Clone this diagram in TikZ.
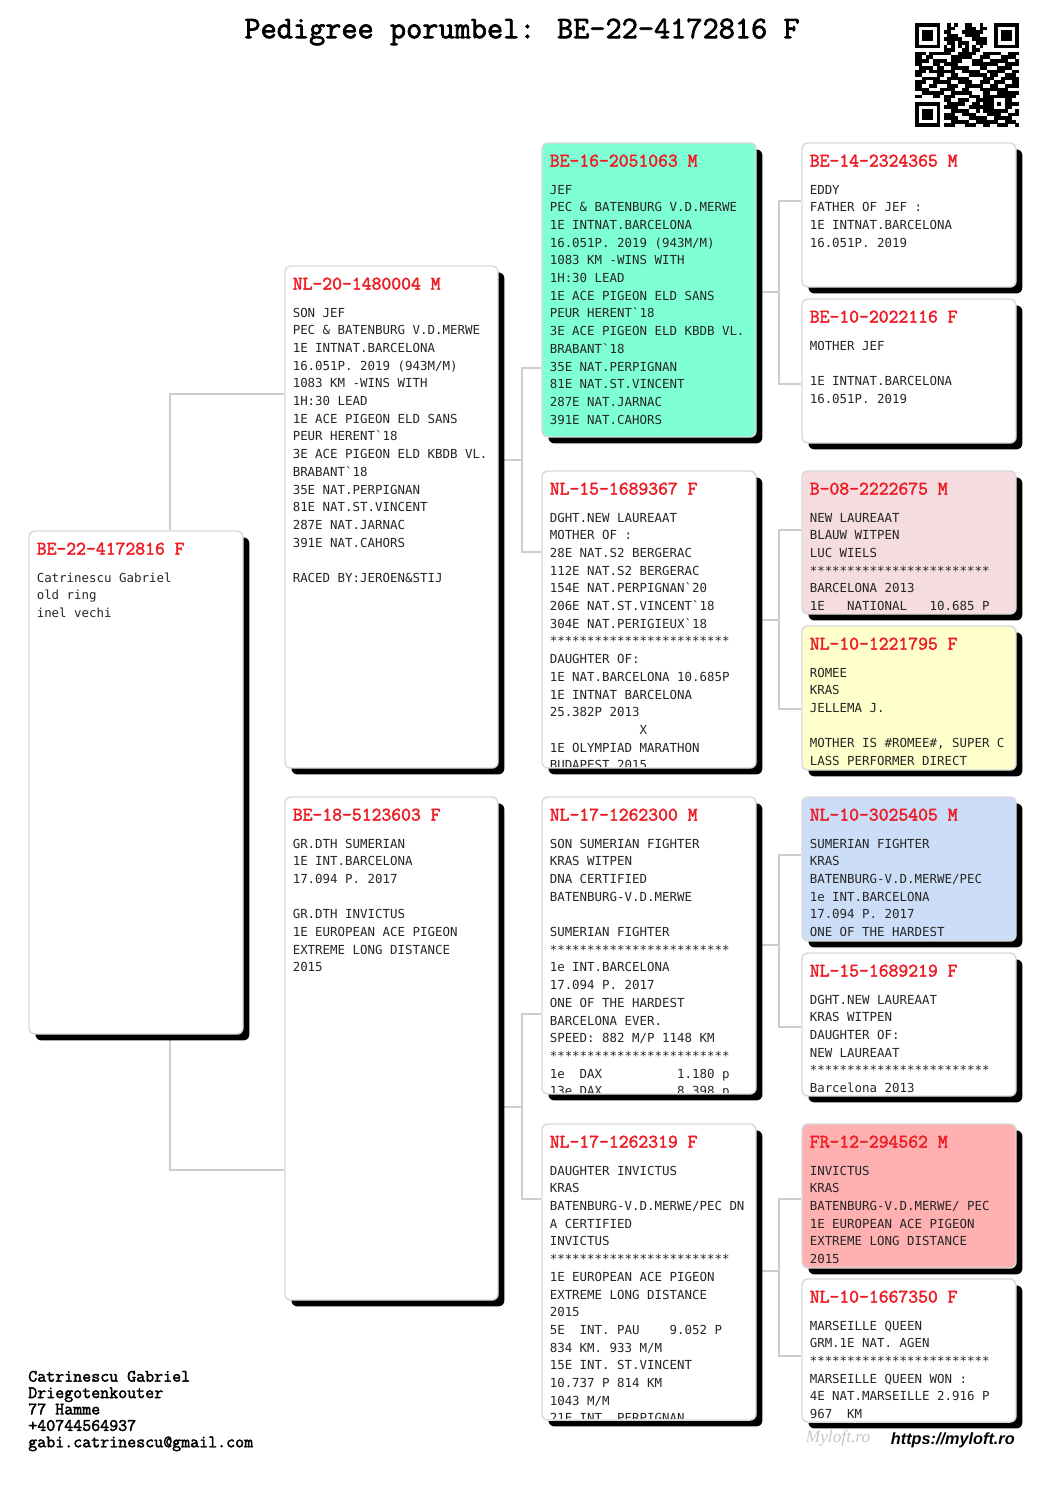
\documentclass[tikz,border=0pt]{standalone}
\usepackage{fontspec}
\usetikzlibrary{shadows,backgrounds}
\newfontfamily\bodymono{DejaVu Sans Mono}
\newfontfamily\headmono[FakeBold=2.2]{Latin Modern Mono}
\newfontfamily\urlsans{Liberation Sans}
\newfontfamily\logoserif{Liberation Serif}
\definecolor{edgegray}{HTML}{D9D9D9}
\definecolor{linkgray}{HTML}{CDCDCD}
\definecolor{headred}{HTML}{EE1C25}
\definecolor{inkdark}{HTML}{262626}
\definecolor{cteal}{HTML}{7FFFD4}
\definecolor{cpink}{HTML}{F4DCDF}
\definecolor{cyellow}{HTML}{FFFFCC}
\definecolor{cblue}{HTML}{CCDDF7}
\definecolor{cred}{HTML}{FFB0B0}
\tikzset{
  pedbox/.style={draw=edgegray,line width=1.1pt,rounded corners=4.5pt,inner sep=0pt,
    drop shadow={shadow xshift=4.8pt,shadow yshift=-4.8pt,fill=black,opacity=1}},
  headtext/.style={anchor=west,inner sep=0pt,text=headred,font=\headmono\fontsize{14.35pt}{16pt}\selectfont},
  bodytext/.style={anchor=north west,inner sep=0pt,align=left,text=inkdark,font=\bodymono\fontsize{9.33pt}{13.27pt}\selectfont},
  link/.style={draw=linkgray,line width=0.9pt},
  titletext/.style={inner sep=0pt,font=\headmono\fontsize{23.55pt}{26pt}\selectfont},
  foottext/.style={anchor=north west,inner sep=0pt,align=left,font=\headmono\fontsize{13.1pt}{12.3pt}\selectfont},
  urltext/.style={inner sep=0pt,font=\urlsans\bfseries\itshape\fontsize{12.2pt}{14pt}\selectfont},
  logotext/.style={inner sep=0pt,text=black!22,font=\logoserif\itshape\fontsize{13pt}{14pt}\selectfont}
}
% name, left, top, right, bottom, colour, header, body, clip y
\newcommand\pedigreebox[9]{%
  \node[pedbox,fill=#6,minimum width={(#4-#2)*0.75pt},minimum height={(#5-#3)*0.75pt}] (#1) at ({(#2+#4)/2},{(#3+#5)/2}) {};
  \node[headtext] (#1h) at ({#2+7.5},{#3+17.7}) {#7};
  \begin{scope}
    \clip (#2,#3) rectangle (#4,#9);
    \node[bodytext] (#1b) at ({#2+7.5},{#3+40.2}) {\rule{0pt}{8pt}#8};
  \end{scope}}
% parent, stub y, mid x, child1, y1, child2, y2
\newcommand\pedigreelink[7]{%
  \draw[link] (#1.east |- 0,#2) -- (#3,#2);
  \draw[link] (#4.west |- 0,#5) -- (#3,#5) -- (#3,#7) -- (#6.west |- 0,#7);}
\newcount\qrcol
\newcount\qrrow
\def\qrscan#1{\ifx#1\relax\else
  \ifx#11\fill[black] ({915+3.586*\the\qrcol},{23+3.586*\the\qrrow}) rectangle ({915+3.586*(\the\qrcol+1)+0.1},{23+3.586*(\the\qrrow+1)+0.1});\fi
  \advance\qrcol by 1 \expandafter\qrscan\fi}
\def\qrline#1{\qrcol=0 \qrscan#1\relax\advance\qrrow by 1 }
\begin{document}
\begin{tikzpicture}[x=0.75pt,y=-0.75pt]
\useasboundingbox (0,0) rectangle (1044,1488);
\node[titletext] (title) at (522,32) {Pedigree porumbel: BE-22-4172816 F};
\qrrow=0
\qrline{11111110010100110010001111111}
\qrline{10000010011000111011001000001}
\qrline{10111010110001111110001011101}
\qrline{10111010011100111100001011101}
\qrline{10111010111110001111001011101}
\qrline{10000010011011100111001000001}
\qrline{11111110101010101010001111111}
\qrline{00000000111001101100000000000}
\qrline{11101111110011111001111100111}
\qrline{11011000001111110011100011110}
\qrline{11110111101110001110011111001}
\qrline{11000110111100001111111001111}
\qrline{01111011001111100011000111100}
\qrline{11101111111001111100111110011}
\qrline{11000011001100011111011001110}
\qrline{00111110011111100001110011111}
\qrline{11100111110011110011101110011}
\qrline{11001100011100111110011001111}
\qrline{11110001111001100011111111000}
\qrline{00111111001111110001100111111}
\qrline{11000110111000011101111111110}
\qrline{00000000110011100111110001100}
\qrline{11111110011111001101110101111}
\qrline{10000010111100011111110001100}
\qrline{10111010001111100101111111001}
\qrline{10111010111001111000111100111}
\qrline{10111010111100011111001111100}
\qrline{10000010001111100111111001110}
\qrline{11111110111000111001100111001}

\pedigreebox{root}{29}{531}{243}{1034}{white}{BE-22-4172816 F}{Catrinescu Gabriel\\old ring\\inel vechi}{1031}

\pedigreebox{sire}{285}{266}{498}{768}{white}{NL-20-1480004 M}{SON JEF\\PEC \& BATENBURG V.D.MERWE\\1E INTNAT.BARCELONA\\16.051P. 2019 (943M/M)\\1083 KM -WINS WITH\\1H:30 LEAD\\1E ACE PIGEON ELD SANS\\PEUR HERENT`18\\3E ACE PIGEON ELD KBDB VL.\\BRABANT`18\\35E NAT.PERPIGNAN\\81E NAT.ST.VINCENT\\287E NAT.JARNAC\\391E NAT.CAHORS\\~\\RACED BY:JEROEN\&STIJ}{765}
\pedigreebox{dam}{285}{797}{498}{1300}{white}{BE-18-5123603 F}{GR.DTH SUMERIAN\\1E INT.BARCELONA\\17.094 P. 2017\\~\\GR.DTH INVICTUS\\1E EUROPEAN ACE PIGEON\\EXTREME LONG DISTANCE\\2015}{1297}

\pedigreebox{ss}{542}{143}{756}{437}{cteal}{BE-16-2051063 M}{JEF\\PEC \& BATENBURG V.D.MERWE\\1E INTNAT.BARCELONA\\16.051P. 2019 (943M/M)\\1083 KM -WINS WITH\\1H:30 LEAD\\1E ACE PIGEON ELD SANS\\PEUR HERENT`18\\3E ACE PIGEON ELD KBDB VL.\\BRABANT`18\\35E NAT.PERPIGNAN\\81E NAT.ST.VINCENT\\287E NAT.JARNAC\\391E NAT.CAHORS}{434}
\pedigreebox{sd}{542}{471}{756}{768}{white}{NL-15-1689367 F}{DGHT.NEW LAUREAAT\\MOTHER OF :\\28E NAT.S2 BERGERAC\\112E NAT.S2 BERGERAC\\154E NAT.PERPIGNAN`20\\206E NAT.ST.VINCENT`18\\304E NAT.PERIGIEUX`18\\************************\\DAUGHTER OF:\\1E NAT.BARCELONA 10.685P\\1E INTNAT BARCELONA\\25.382P 2013\\~~~~~~~~~~~~X\\1E OLYMPIAD MARATHON\\BUDAPEST 2015}{766}
\pedigreebox{ds}{542}{797}{756}{1094}{white}{NL-17-1262300 M}{SON SUMERIAN FIGHTER\\KRAS WITPEN\\DNA CERTIFIED\\BATENBURG-V.D.MERWE\\~\\SUMERIAN FIGHTER\\************************\\1e INT.BARCELONA\\17.094 P. 2017\\ONE OF THE HARDEST\\BARCELONA EVER.\\SPEED: 882 M/P 1148 KM\\************************\\1e~~DAX~~~~~~~~~~1.180 p\\13e DAX~~~~~~~~~~8.398 p}{1092}
\pedigreebox{dd}{542}{1124}{756}{1420}{white}{NL-17-1262319 F}{DAUGHTER INVICTUS\\KRAS\\BATENBURG-V.D.MERWE/PEC DN\\A CERTIFIED\\INVICTUS\\************************\\1E EUROPEAN ACE PIGEON\\EXTREME LONG DISTANCE\\2015\\5E~~INT.~PAU~~~~9.052~P\\834 KM. 933 M/M\\15E INT. ST.VINCENT\\10.737 P 814 KM\\1043 M/M\\21E INT. PERPIGNAN}{1418}

\pedigreebox{sss}{802}{143}{1016}{287}{white}{BE-14-2324365 M}{EDDY\\FATHER OF JEF :\\1E INTNAT.BARCELONA\\16.051P. 2019}{285}
\pedigreebox{ssd}{802}{299}{1016}{443}{white}{BE-10-2022116 F}{MOTHER JEF\\~\\1E INTNAT.BARCELONA\\16.051P. 2019}{441}
\pedigreebox{sds}{802}{471}{1016}{614}{cpink}{B-08-2222675 M}{NEW LAUREAAT\\BLAUW WITPEN\\LUC WIELS\\************************\\BARCELONA 2013\\1E~~~NATIONAL~~~10.685 P}{612}
\pedigreebox{sdd}{802}{626}{1016}{770}{cyellow}{NL-10-1221795 F}{ROMEE\\KRAS\\JELLEMA J.\\~\\MOTHER IS \#ROMEE\#, SUPER C\\LASS PERFORMER DIRECT}{768}
\pedigreebox{dss}{802}{797}{1016}{941}{cblue}{NL-10-3025405 M}{SUMERIAN FIGHTER\\KRAS\\BATENBURG-V.D.MERWE/PEC\\1e INT.BARCELONA\\17.094 P. 2017\\ONE OF THE HARDEST}{936}
\pedigreebox{dsd}{802}{953}{1016}{1096}{white}{NL-15-1689219 F}{DGHT.NEW LAUREAAT\\KRAS WITPEN\\DAUGHTER OF:\\NEW LAUREAAT\\************************\\Barcelona 2013}{1094}
\pedigreebox{dds}{802}{1124}{1016}{1268}{cred}{FR-12-294562 M}{INVICTUS\\KRAS\\BATENBURG-V.D.MERWE/ PEC\\1E EUROPEAN ACE PIGEON\\EXTREME LONG DISTANCE\\2015}{1266}
\pedigreebox{ddd}{802}{1279}{1016}{1422}{white}{NL-10-1667350 F}{MARSEILLE QUEEN\\GRM.1E NAT. AGEN\\************************\\MARSEILLE QUEEN WON :\\4E NAT.MARSEILLE 2.916 P\\967~~KM}{1420}

\begin{scope}[on background layer]
\fill[white] (0,0) rectangle (1044,1488);
\draw[link] (sire.west |- 0,394) -- (170,394) -- (170,0 |- root.north);
\draw[link] (dam.west |- 0,1170) -- (170,1170) -- (170,0 |- root.south);
\pedigreelink{sire}{460}{522}{ss}{368}{sd}{552}
\pedigreelink{dam}{1107}{522}{ds}{1014}{dd}{1199}
\pedigreelink{ss}{292}{779}{sss}{201}{ssd}{384}
\pedigreelink{sd}{620}{779}{sds}{530}{sdd}{709}
\pedigreelink{ds}{945}{779}{dss}{855}{dsd}{1027}
\pedigreelink{dd}{1271}{779}{dds}{1199}{ddd}{1356}
\end{scope}

\node[foottext] (contact) at (28,1370.5) {Catrinescu Gabriel\\Driegotenkouter\\77 Hamme\\+40744564937\\gabi.catrinescu@gmail.com};
\node[logotext] (logo) at (838,1438) {Myloft.ro};
\node[urltext,anchor=east] (url) at (1015,1440) {https://myloft.ro};
\end{tikzpicture}
\end{document}
